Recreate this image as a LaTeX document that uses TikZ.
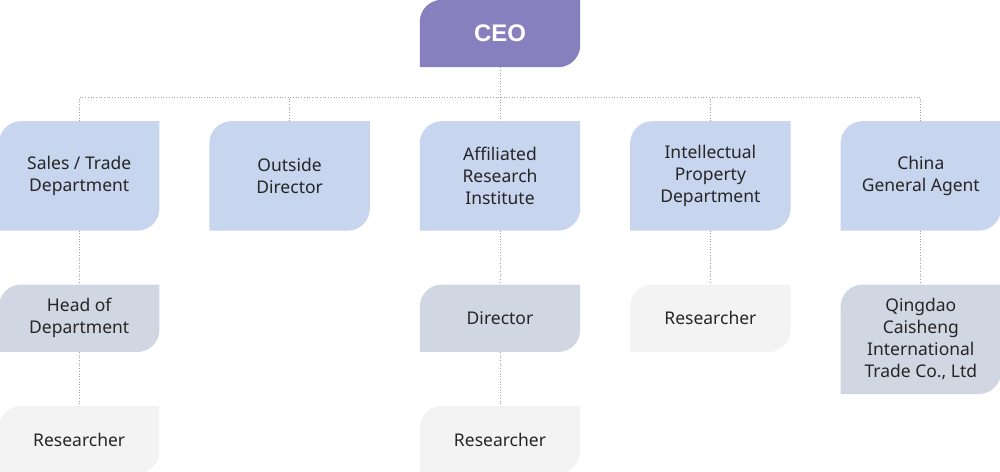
\documentclass[tikz,border=0pt]{standalone}
\usepackage{fontspec}
\setmainfont{Noto Sans}
\newfontfamily\ceofont{Liberation Sans}
\usepackage{xcolor}
\usetikzlibrary{positioning,backgrounds}

\definecolor{ceocol}{RGB}{134,128,190}
\definecolor{deptcol}{RGB}{199,213,238}
\definecolor{headcol}{RGB}{208,214,226}
\definecolor{rescol}{RGB}{243,243,244}
\definecolor{txtcol}{RGB}{38,38,38}
\definecolor{dotcol}{RGB}{160,160,160}

\begin{document}
\begin{tikzpicture}[x=1pt,y=1pt,
        node distance=54pt and 50pt,
        unit/.style={minimum width=160pt,minimum height=67pt,inner sep=0pt,align=center,
          text=txtcol,font=\fontsize{17.5}{22}\selectfont},
        tall/.style={unit,minimum height=109pt},
        top/.style={unit,text=white,font=\ceofont\fontsize{24}{26}\selectfont\bfseries},
        link/.style={dotcol,line width=0.9pt,dash pattern=on 0.9pt off 1.8pt}]
        \useasboundingbox (0,0) rectangle (1000,471);
        % boxes
        \node [top] (ceo) at (500,437.5) {CEO};
        \node [tall,below=of ceo] (inst) {Affiliated\\Research\\Institute};
        \node [tall,left=of inst] (outside) {Outside\\Director};
        \node [tall,left=of outside] (sales) {Sales / Trade\\Department};
        \node [tall,right=of inst] (ip) {Intellectual\\Property\\Department};
        \node [tall,right=of ip] (china) {China\\General Agent};
        \node [unit,below=of sales] (head) {Head of\\Department};
        \node [unit,below=of head] (res1) {Researcher};
        \node [unit,below=of inst] (dir) {Director};
        \node [unit,below=of dir] (res2) {Researcher};
        \node [unit,below=of ip] (res3) {Researcher};
        \node [tall,below=of china] (agent) {Qingdao\\Caisheng\\International\\Trade Co., Ltd};
        % shapes behind the text
        \begin{scope}[on background layer]
        \foreach \n/\c in {ceo/ceocol,sales/deptcol,outside/deptcol,inst/deptcol,ip/deptcol,
            china/deptcol,head/headcol,dir/headcol,agent/headcol,res1/rescol,res2/rescol,res3/rescol}
          \fill [\c] (\n.south west) -- ([yshift=-22pt]\n.north west)
            arc [start angle=180,end angle=90,radius=22pt] -- (\n.north east)
            -- ([yshift=22pt]\n.south east) arc [start angle=0,end angle=-90,radius=22pt] -- cycle;
        \end{scope}
        % connectors
        \path (ceo.south) -- coordinate[pos=0.56] (bus) (inst.north);
        \draw [link] (ceo.south) -- (inst.north);
        \draw [link] (sales.north) |- (bus) -| (china.north);
        \draw [link] (outside.north) -- (outside.north |- bus);
        \draw [link] (ip.north) -- (ip.north |- bus);
        \draw [link] (sales) -- (head);
        \draw [link] (head) -- (res1);
        \draw [link] (inst) -- (dir);
        \draw [link] (dir) -- (res2);
        \draw [link] (ip) -- (res3);
        \draw [link] (china) -- (agent);
\end{tikzpicture}
\end{document}
